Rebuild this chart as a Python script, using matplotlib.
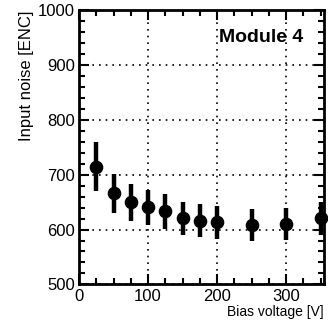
import matplotlib
matplotlib.use("Agg")
import matplotlib.pyplot as plt
import matplotlib.ticker as mticker

plt.rcParams["font.family"] = ["Liberation Sans", "DejaVu Sans"]

# Input noise vs bias voltage for module 4
bias_v = [25, 50, 75, 100, 125, 150, 175, 200, 250, 300, 350]
noise = [715, 666, 650, 641, 633, 621, 616, 613, 608, 610, 621]
noise_err = [45, 36, 34, 32, 32, 30, 30, 30, 29, 29, 30]

fig = plt.figure(figsize=(3.28, 3.25), dpi=100)
ax = fig.add_axes([0.241, 0.125, 0.747, 0.843])

markers, caps, bars = ax.errorbar(bias_v, noise, yerr=noise_err, fmt="o",
                                  color="black", markersize=8.8,
                                  elinewidth=3.2, capsize=0, zorder=3)
markers.set_clip_on(False)
for b in bars:
    b.set_clip_on(False)

ax.set_xlim(0, 355)
ax.set_ylim(500, 1000)

ax.xaxis.set_major_locator(mticker.MultipleLocator(100))
ax.xaxis.set_minor_locator(mticker.MultipleLocator(25))
ax.yaxis.set_major_locator(mticker.MultipleLocator(100))
ax.yaxis.set_minor_locator(mticker.MultipleLocator(20))

ax.grid(True, which="major", linestyle=(0, (1, 3)), color="black", linewidth=1.2)
ax.set_axisbelow(True)

ax.tick_params(which="both", direction="in", top=True, right=True,
               labelsize=12, width=1.5, color="black")
ax.tick_params(which="major", length=7, pad=3)
ax.tick_params(which="minor", length=4)
for s in ax.spines.values():
    s.set_linewidth(2)

ax.set_xlabel("Bias voltage [V]", fontsize=10, loc="right", labelpad=1)
ax.set_ylabel("Input noise [ENC]", fontsize=12, loc="top", labelpad=3)

ax.text(0.914, 0.9, "Module 4", transform=ax.transAxes, ha="right",
        va="center", fontsize=14, fontweight="bold")

fig.savefig("out.png", dpi=100)
